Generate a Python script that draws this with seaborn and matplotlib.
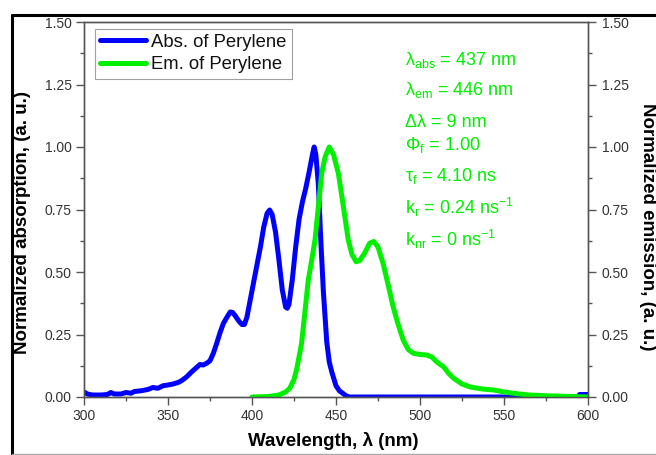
import numpy as np
import pandas as pd
import matplotlib
matplotlib.use("Agg")
import matplotlib.pyplot as plt
from matplotlib.lines import Line2D
from matplotlib.ticker import MultipleLocator
import seaborn as sns

# ---------------- data ----------------
abs_wl = [300, 302, 305, 310, 314, 316, 318, 322, 325, 328, 330, 334, 338, 341, 344,
          347, 350, 353, 356, 358, 361, 364, 367, 369, 371, 373, 375, 377, 379, 381,
          383, 385, 387, 388.5, 390, 392, 394, 395.5, 397, 399, 401, 403, 405, 407,
          409, 410.5, 412, 414, 416, 418, 420, 421, 422, 424, 426, 428, 430, 432, 434,
          436, 437, 438, 439.5, 441, 442.5, 444.5, 446, 447.5, 450, 452, 454, 456, 458,
          500, 550, 594, 595, 600]
abs_val = [0.020, 0.012, 0.008, 0.008, 0.010, 0.018, 0.012, 0.012, 0.018, 0.015, 0.022,
           0.025, 0.030, 0.038, 0.035, 0.045, 0.048, 0.052, 0.058, 0.065, 0.080, 0.100,
           0.118, 0.130, 0.128, 0.135, 0.145, 0.175, 0.215, 0.258, 0.295, 0.318, 0.340,
           0.338, 0.325, 0.305, 0.290, 0.290, 0.320, 0.390, 0.460, 0.530, 0.600, 0.680,
           0.735, 0.748, 0.730, 0.660, 0.550, 0.430, 0.360, 0.355, 0.370, 0.470, 0.600,
           0.710, 0.780, 0.835, 0.900, 0.970, 1.000, 0.970, 0.850, 0.620, 0.420, 0.220,
           0.140, 0.100, 0.045, 0.025, 0.015, 0.005, 0.000, 0.000, 0.000, 0.000, 0.010,
           0.010]

em_wl = [400, 410, 416, 420, 422.5, 425, 426.5, 428, 429.5, 431.5, 433.5, 435.5, 437.5,
         439.5, 441.5, 443.5, 446, 448.5, 451.4, 454.4, 457.3, 459.5, 462, 464, 467, 470,
         472.5, 475, 478, 481, 484, 487, 490, 493, 496, 500, 504, 507, 510, 514, 517, 520,
         525, 530, 537, 544, 550, 558, 565, 575, 590, 600]
em_val = [0.000, 0.002, 0.008, 0.020, 0.035, 0.070, 0.108, 0.160, 0.215, 0.340, 0.468,
          0.545, 0.628, 0.761, 0.895, 0.960, 1.000, 0.970, 0.895, 0.761, 0.628, 0.570,
          0.541, 0.545, 0.575, 0.615, 0.622, 0.600, 0.535, 0.450, 0.361, 0.290, 0.228,
          0.190, 0.175, 0.170, 0.168, 0.160, 0.140, 0.121, 0.095, 0.075, 0.052, 0.040,
          0.032, 0.028, 0.020, 0.013, 0.008, 0.005, 0.002, 0.000]

series_names = ["Abs. of Perylene", "Em. of Perylene"]
annotations = [r"λ$_{\mathrm{abs}}$ = 437 nm",
               r"λ$_{\mathrm{em}}$ = 446 nm",
               "Δλ = 9 nm",
               r"Φ$_{\mathrm{f}}$ = 1.00",
               r"τ$_{\mathrm{f}}$ = 4.10 ns",
               r"k$_{\mathrm{r}}$ = 0.24 ns$^{\mathrm{-1}}$",
               r"k$_{\mathrm{nr}}$ = 0 ns$^{\mathrm{-1}}$"]
xlabel = "Wavelength, λ (nm)"
ylabel_left = "Normalized absorption, (a. u.)"
ylabel_right = "Normalized emission, (a. u.)"

# ---------------- style ----------------
sns.set_theme(style="white")
plt.rcParams["font.family"] = ["Liberation Sans", "DejaVu Sans"]
plt.rcParams["mathtext.fontset"] = "custom"
plt.rcParams["mathtext.rm"] = "Liberation Sans"
plt.rcParams["mathtext.it"] = "Liberation Sans:italic"
plt.rcParams["mathtext.bf"] = "Liberation Sans:bold"

BLUE = "#0000ff"
GREEN = "#00f000"
SPINE = "#555555"
TICKC = "#333333"

fig = plt.figure(figsize=(6.56, 4.55), dpi=100)
ax = fig.add_axes([84 / 656, 1 - 397 / 455, 504 / 656, 375 / 455])
ax2 = ax.twinx()

df_abs = pd.DataFrame({"wl": abs_wl, "val": abs_val})
df_em = pd.DataFrame({"wl": em_wl, "val": em_val})

sns.lineplot(data=df_abs, x="wl", y="val", ax=ax, color=BLUE, lw=3.6,
             sort=False, estimator=None, legend=False)
sns.lineplot(data=df_em, x="wl", y="val", ax=ax2, color=GREEN, lw=3.6,
             sort=False, estimator=None, legend=False)

for a in (ax, ax2):
    a.set_xlim(300, 600)
    a.set_ylim(0, 1.5)
    a.yaxis.set_major_locator(MultipleLocator(0.25))
    a.yaxis.set_minor_locator(MultipleLocator(0.125))
    a.yaxis.set_major_formatter(matplotlib.ticker.FormatStrFormatter("%.2f"))
    for s in a.spines.values():
        s.set_color(SPINE)
        s.set_linewidth(1.0)
    a.set_xlabel("")
    a.set_ylabel("")

ax.xaxis.set_major_locator(MultipleLocator(50))
ax.xaxis.set_minor_locator(MultipleLocator(25))

ax.tick_params(axis="both", which="major", direction="out", length=6, width=1,
               color=SPINE, labelcolor=TICKC, labelsize=10, pad=3)
ax.tick_params(axis="both", which="minor", direction="out", length=3, width=1, color=SPINE)
ax.tick_params(axis="x", which="both", bottom=True, top=False)
ax.tick_params(axis="y", which="both", left=True, right=False)
ax2.tick_params(axis="y", which="major", direction="out", length=6, width=1,
                color=SPINE, labelcolor=TICKC, labelsize=10, pad=4, right=True)
ax2.tick_params(axis="y", which="minor", direction="out", length=3, width=1,
                color=SPINE, right=True)

ax.set_xlabel(xlabel, fontsize=13.5, fontweight="bold", color="black")
ax.xaxis.set_label_coords(0.494, -0.092)
ax.set_ylabel(ylabel_left, fontsize=13.5, fontweight="bold", color="black")
ax.yaxis.set_label_coords(-0.106, 0.465)
ax2.set_ylabel(ylabel_right, fontsize=13.5, fontweight="bold", color="black",
               rotation=270, va="center")
ax2.yaxis.set_label_coords(1.119, 0.455)

# legend
handles = [Line2D([0], [0], color=BLUE, lw=3.6), Line2D([0], [0], color=GREEN, lw=3.6)]
leg = ax2.legend(handles, series_names, loc="upper left", bbox_to_anchor=(0.022, 0.982),
                 borderaxespad=0, fontsize=13.3, frameon=True, fancybox=False,
                 edgecolor="#888888", handlelength=2.45, handletextpad=0.3,
                 labelspacing=0.3, borderpad=0.28)
leg.get_frame().set_linewidth(0.8)
for t in leg.get_texts():
    t.set_color("#111111")

# annotations
ann_y = [1.328, 1.208, 1.080, 0.988, 0.864, 0.732, 0.604]
for txt, yy in zip(annotations, ann_y):
    ax2.text(491, yy, txt, color=GREEN, fontsize=13, va="baseline", ha="left")

# figure frame
fig.add_artist(Line2D([11.5 / 656, 11.5 / 656], [0, 1 - 14.5 / 455], color="black",
                      lw=2.2, transform=fig.transFigure))
fig.add_artist(Line2D([11.5 / 656, 1], [1 - 14.5 / 455, 1 - 14.5 / 455], color="black",
                      lw=2.2, transform=fig.transFigure))
fig.add_artist(Line2D([11.5 / 656, 1], [1 - 453.5 / 455, 1 - 453.5 / 455], color="#aaaaaa",
                      lw=1.0, transform=fig.transFigure))

fig.savefig("out.png", dpi=100)
